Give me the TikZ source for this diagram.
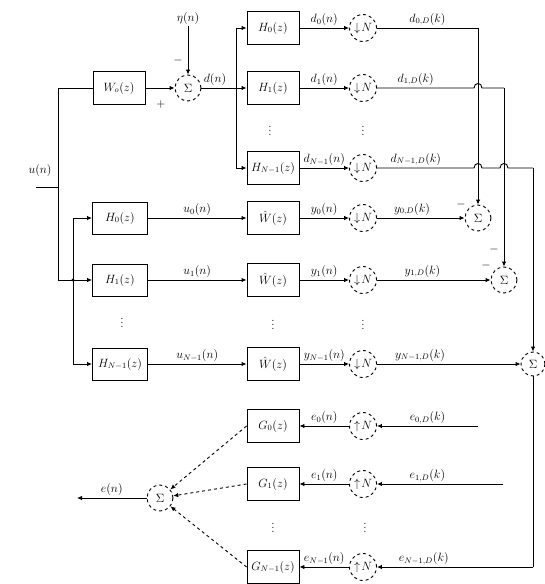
\documentclass[tikz,border=0pt]{standalone}
\usetikzlibrary{arrows.meta}
\begin{document}
\begin{tikzpicture}[x=1pt,y=-1pt, line width=0.9pt,
  >={Latex[length=5pt,width=4.5pt]},
  blk/.style={draw, minimum width=52pt, minimum height=33pt, inner sep=0pt, font=\large},
  lblk/.style={blk, minimum width=55pt, minimum height=32pt},
  sumc/.style={circle, draw, dashed, minimum size=26pt, inner sep=0pt, font=\large},
  rate/.style={circle, draw, dashed, minimum size=27pt, inner sep=0pt, font=\large},
  lbl/.style={inner sep=2pt, font=\large},
  dotsn/.style={inner sep=0pt, font=\large}]
\useasboundingbox (0,0) rectangle (545,584);

% ---------- input and unknown system ----------
\coordinate (uin) at (36,187);
\coordinate (b1m) at (58,187);
\coordinate (b1t) at (58,88);
\coordinate (b1b) at (58,280);
\node[lbl] (ulab) at (40,170) {$u(n)$};
\draw (uin) -- (b1m);
\draw (b1t) -- (b1b);
\node[blk] (W) at (119,88) {$W_o(z)$};
\draw (b1t) -- (W);
\node[sumc] (S) at (188,88) {$\Sigma$};
\draw[->] (W) -- (S);
\node[lbl] (eta) at (188,18) {$\eta(n)$};
\draw[->] (eta) -- (S);
\node[lbl] (sm1) at (178,60) {$-$};
\node[lbl] (sp1) at (161,104) {$+$};

% ---------- analysis of d(n) ----------
\node[blk] (Ha0) at (273,28) {$H_0(z)$};
\node[blk] (Ha1) at (273,88) {$H_1(z)$};
\node[blk] (HaN) at (273,168) {$H_{N-1}(z)$};
\coordinate (b2t) at (236,28);
\coordinate (b2b) at (236,168);
\draw[->] (S) -- node[lbl, pos=0.3, above] {$d(n)$} (Ha1);
\draw (b2t) -- (b2b);
\draw[->] (b2t) -- (Ha0);
\draw[->] (b2b) -- (HaN);
\node[dotsn] (vd1) at (270,128) {$\vdots$};

\node[rate] (Da0) at (363,28) {$\downarrow\!N$};
\node[rate] (Da1) at (363,88) {$\downarrow\!N$};
\node[rate] (DaN) at (363,168) {$\downarrow\!N$};
\node[dotsn] (vd2) at (363,128) {$\vdots$};
\draw[->] (Ha0) -- node[lbl, above] {$d_0(n)$} (Da0);
\draw[->] (Ha1) -- node[lbl, above] {$d_1(n)$} (Da1);
\draw[->] (HaN) -- node[lbl, above] {$d_{N-1}(n)$} (DaN);

% ---------- error summations ----------
\node[sumc] (Sm0) at (478,218) {$\Sigma$};
\node[sumc] (Sm1) at (504,280) {$\Sigma$};
\node[sumc, minimum size=24pt] (SmN) at (533,364) {$\Sigma$};
\coordinate (c0) at (478,28);
\coordinate (c1) at (504,88);
\coordinate (cN) at (533,168);
\draw (Da0) -- node[lbl, above] {$d_{0,D}(k)$} (c0);
\draw[->] (c0) -- (Sm0);
\draw (Da1) -- node[lbl, above, pos=0.4] {$d_{1,D}(k)$} (474,88)
   .. controls (474,82) and (482,82) .. (482,88) -- (c1);
\draw[->] (c1) -- (Sm1);
\draw (DaN) -- node[lbl, above, pos=0.4] {$d_{N-1,D}(k)$} (474,168)
   .. controls (474,162) and (482,162) .. (482,168) -- (500,168)
   .. controls (500,162) and (508,162) .. (508,168) -- (cN);
\draw[->] (cN) -- (SmN);
\node[lbl] (m0) at (461,204) {$-$};
\node[lbl] (m1a) at (494,249) {$-$};
\node[lbl] (m1b) at (486,265) {$-$};

% ---------- adaptive branch ----------
\node[lblk] (Hb0) at (120,218) {$H_0(z)$};
\node[lblk] (Hb1) at (120,280) {$H_1(z)$};
\node[lblk] (HbN) at (120,364) {$H_{N-1}(z)$};
\coordinate (b3t) at (73,218);
\coordinate (b3m) at (73,280);
\coordinate (b3b) at (73,364);
\draw (b1b) -- (b3m);
\fill (b3m) circle (1.6pt);
\draw (b3t) -- (b3b);
\draw[->] (b3t) -- (Hb0);
\draw[->] (b3m) -- (Hb1);
\draw[->] (b3b) -- (HbN);
\node[dotsn] (vd3) at (122,320) {$\vdots$};

\node[blk] (Wh0) at (273,218) {$\hat{W}(z)$};
\node[blk] (Wh1) at (273,280) {$\hat{W}(z)$};
\node[blk] (WhN) at (273,364) {$\hat{W}(z)$};
\node[dotsn] (vd4) at (273,322) {$\vdots$};
\draw[->] (Hb0) -- node[lbl, above] {$u_0(n)$} (Wh0);
\draw[->] (Hb1) -- node[lbl, above] {$u_1(n)$} (Wh1);
\draw[->] (HbN) -- node[lbl, above] {$u_{N-1}(n)$} (WhN);

\node[rate] (Db0) at (363,218) {$\downarrow\!N$};
\node[rate] (Db1) at (363,280) {$\downarrow\!N$};
\node[rate] (DbN) at (363,364) {$\downarrow\!N$};
\node[dotsn] (vd5) at (363,322) {$\vdots$};
\draw[->] (Wh0) -- node[lbl, above] {$y_0(n)$} (Db0);
\draw[->] (Wh1) -- node[lbl, above] {$y_1(n)$} (Db1);
\draw[->] (WhN) -- node[lbl, above] {$y_{N-1}(n)$} (DbN);
\draw[->] (Db0) -- node[lbl, above, pos=0.4] {$y_{0,D}(k)$} (Sm0);
\draw[->] (Db1) -- node[lbl, above, pos=0.4] {$y_{1,D}(k)$} (Sm1);
\draw[->] (DbN) -- node[lbl, above, pos=0.3] {$y_{N-1,D}(k)$} (SmN);

% ---------- synthesis ----------
\node[blk] (G0) at (273,426) {$G_0(z)$};
\node[blk] (G1) at (273,484) {$G_1(z)$};
\node[blk] (GN) at (273,567) {$G_{N-1}(z)$};
\node[dotsn] (vd6) at (273,525) {$\vdots$};
\node[rate] (U0) at (363,426) {$\uparrow\!N$};
\node[rate] (U1) at (363,484) {$\uparrow\!N$};
\node[rate] (UN) at (363,567) {$\uparrow\!N$};
\node[dotsn] (vd7) at (365,525) {$\vdots$};
\coordinate (e0s) at (478,426);
\coordinate (e1s) at (503,484);
\coordinate (eNs) at (533,567);
\draw (SmN) -- (eNs);
\draw[->] (e0s) -- node[lbl, above] {$e_{0,D}(k)$} (U0);
\draw[->] (e1s) -- node[lbl, above, pos=0.6] {$e_{1,D}(k)$} (U1);
\draw[->] (eNs) -- node[lbl, above, pos=0.7] {$e_{N-1,D}(k)$} (UN);
\draw[->] (U0) -- node[lbl, above] {$e_0(n)$} (G0);
\draw[->] (U1) -- node[lbl, above] {$e_1(n)$} (G1);
\draw[->] (UN) -- node[lbl, above] {$e_{N-1}(n)$} (GN);

\node[sumc] (So) at (160,498) {$\Sigma$};
\draw[->, dashed] (G0.west) -- (So);
\draw[->, dashed] (G1.west) -- (So);
\draw[->, dashed] (GN.west) -- (So);
\coordinate (eout) at (77,498);
\draw[->] (So) -- node[lbl, above] {$e(n)$} (eout);
\end{tikzpicture}
\end{document}
